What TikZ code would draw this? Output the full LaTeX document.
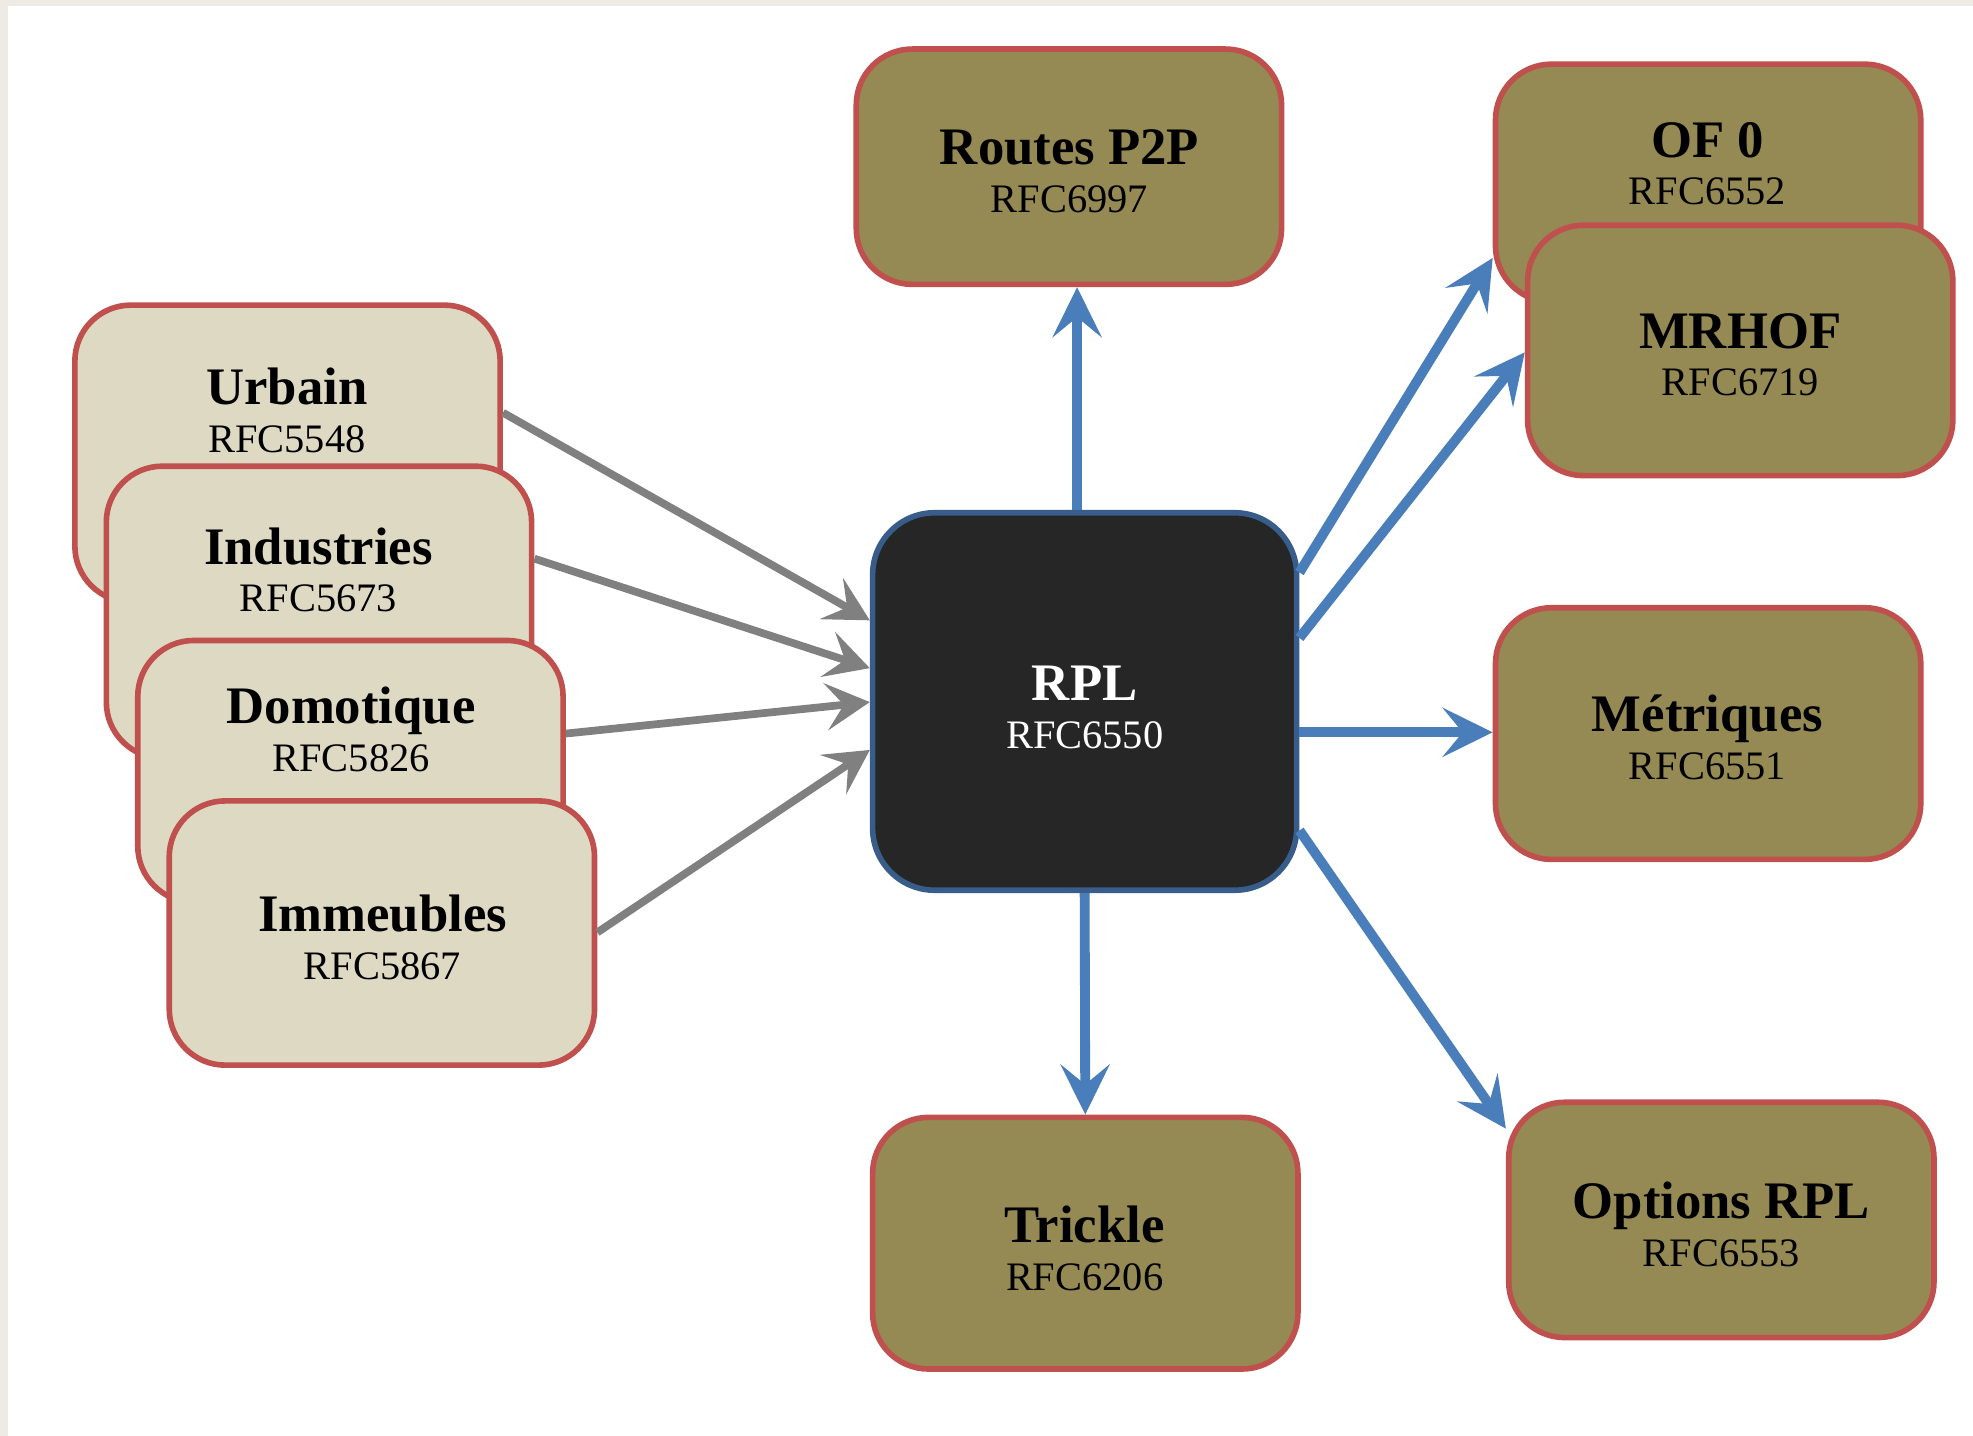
\documentclass[tikz,border=0pt]{standalone}
\usepackage{fontspec}
\setmainfont{Liberation Serif}
\usetikzlibrary{arrows.meta}

\definecolor{edgered}{RGB}{192,80,77}
\definecolor{usagefill}{RGB}{221,217,195}
\definecolor{rfcfill}{RGB}{149,138,83}
\definecolor{corefill}{RGB}{38,38,38}
\definecolor{coreedge}{RGB}{56,93,138}
\definecolor{specblue}{RGB}{74,126,187}
\definecolor{feedgray}{RGB}{128,128,128}
\definecolor{pagegray}{RGB}{238,235,229}

\newcommand{\spx}{0.12583mm}
\newcommand{\rfc}[2]{{\fontsize{15}{18}\selectfont\bfseries #1}\\#2}

\tikzset{
  usage/.style={draw=edgered, fill=usagefill, line width=1.6pt, rounded corners=5.6mm,
    inner sep=0pt, minimum width=338*\spx},
  rfcbox/.style={draw=edgered, fill=rfcfill, line width=1.6pt, rounded corners=5.6mm,
    inner sep=0pt, minimum width=338*\spx},
  core/.style={draw=coreedge, fill=corefill, line width=1.6pt, rounded corners=6.2mm,
    inner sep=0pt, minimum width=337*\spx, minimum height=300*\spx},
  txt/.style={align=center, inner sep=0pt, font=\fontsize{11.5}{13.6}\selectfont},
  feed/.style={draw=feedgray, line width=2.2pt, -{Stealth[length=4.4mm, width=4.7mm, inset=1.8mm]}},
  spec/.style={draw=specblue, line width=2.8pt, -{Stealth[length=5mm, width=4.9mm, inset=2mm]}}
}

\begin{document}
\begin{tikzpicture}[x=\spx, y=-\spx]
  \useasboundingbox (0,0) rectangle (1568,1141);
  \fill[pagegray] (0,0) rectangle (1568,1141);
  \fill[white] (6.4,4.8) rectangle (1568,1141);

  % usages
  \node[usage, minimum height=236*\spx] (urbain) at (228.5,360.5) {};
  \node[txt] (urbain-t) at (228,326) {\rfc{Urbain}{RFC5548}};
  \node[usage, minimum height=232*\spx] (indus) at (253.5,486.5) {};
  \node[txt] (indus-t) at (253,453) {\rfc{Industries}{RFC5673}};
  \node[usage, minimum height=208*\spx] (domo) at (278.5,613) {};
  \node[txt] (domo-t) at (279,580) {\rfc{Domotique}{RFC5826}};
  \node[usage, minimum height=210*\spx] (immeu) at (303.5,741.5) {};
  \node[txt] (immeu-t) at (304,745) {\rfc{Immeubles}{RFC5867}};

  % RPL
  \node[core] (rpl) at (862,557.5) {};
  \node[txt, text=white] (rpl-t) at (862,562) {\rfc{RPL}{RFC6550}};

  % specifications
  \node[rfcbox, minimum height=187*\spx] (p2p) at (849.5,132.5) {};
  \node[txt] (p2p-t) at (850,136) {\rfc{Routes P2P}{RFC6997}};
  \node[rfcbox, minimum height=189*\spx] (of0) at (1357.5,145.5) {};
  \node[txt] (of0-t) at (1357,130) {\rfc{OF 0}{RFC6552}};
  \node[rfcbox, minimum height=199*\spx] (mrhof) at (1383,278.5) {};
  \node[txt] (mrhof-t) at (1383,282) {\rfc{MRHOF}{RFC6719}};
  \node[rfcbox, minimum height=200*\spx] (metr) at (1357.5,583) {};
  \node[txt] (metr-t) at (1357,586) {\rfc{Métriques}{RFC6551}};
  \node[rfcbox, minimum height=200*\spx] (trickle) at (862.5,988) {};
  \node[txt] (trickle-t) at (862,992) {\rfc{Trickle}{RFC6206}};
  \node[rfcbox, minimum height=187*\spx] (opts) at (1368,969.5) {};
  \node[txt] (opts-t) at (1368,973) {\rfc{Options RPL}{RFC6553}};

  % usages -> RPL
  \draw[feed] (urbain.east |- 0,328) -- (rpl.west |- 0,493);
  \draw[feed] (indus.east |- 0,444) -- (rpl.west |- 0,531);
  \draw[feed] (domo.east |- 0,583) -- (rpl.west |- 0,558);
  \draw[feed] (immeu.east |- 0,741) -- (rpl.west |- 0,596);

  % RPL -> specifications
  \draw[spec] (rpl.north -| 856,0) -- (p2p.south -| 856,0);
  \draw[spec] (rpl.east |- 0,455) -- (of0.west |- 0,205);
  \draw[spec] (rpl.east |- 0,507) -- (mrhof.west |- 0,280);
  \draw[spec] (rpl.east |- 0,582) -- (metr.west |- 0,582);
  \draw[spec] (rpl.east |- 0,660) -- (opts.west |- 0,897);
  \draw[spec] (rpl.south) -- (trickle.north);
\end{tikzpicture}
\end{document}
